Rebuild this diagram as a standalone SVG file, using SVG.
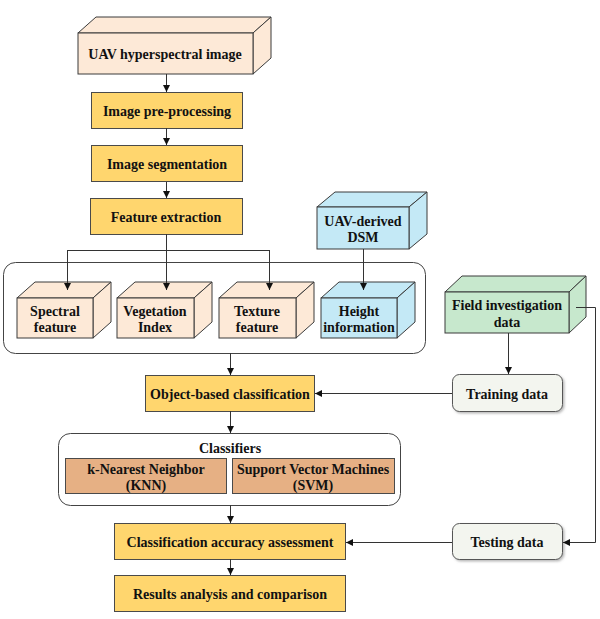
<svg xmlns="http://www.w3.org/2000/svg" width="600" height="619" viewBox="0 0 600 619">
<defs>
<marker id="ah" viewBox="0 0 10 10" refX="10" refY="5" markerWidth="7" markerHeight="7" orient="auto" markerUnits="userSpaceOnUse">
<path d="M0,0 L10,5 L0,10 z" fill="#111"/>
</marker>
<filter id="sh" x="-10%" y="-10%" width="130%" height="140%">
<feDropShadow dx="1.5" dy="1.5" stdDeviation="1" flood-color="#888" flood-opacity="0.6"/>
</filter>
</defs>
<style>
text{font-family:"Liberation Serif","Times New Roman",serif;font-weight:bold;font-size:14px;fill:#111;text-anchor:middle}
.peach{fill:#FDE9D7;stroke:#3a3a3a;stroke-width:1}
.blue{fill:#C4E9F6;stroke:#3a3a3a;stroke-width:1}
.green{fill:#C7E8CD;stroke:#3a3a3a;stroke-width:1}
.gold{fill:#FFD66E;stroke:#4a4a4a;stroke-width:1}
.tan{fill:#E6B084;stroke:#4a4a4a;stroke-width:1}
.round{fill:#fff;stroke:#444;stroke-width:1}
.data{fill:#F3F5EF;stroke:#555;stroke-width:1;filter:url(#sh)}
.c{fill:none;stroke:#333;stroke-width:1}
.a{fill:none;stroke:#333;stroke-width:1;marker-end:url(#ah)}
</style>
<rect width="600" height="619" fill="#fff"/>

<g id="containers">
<rect x="3.5" y="262.5" width="422" height="91" rx="12" class="round"/>
<rect x="58.5" y="433.5" width="342" height="72" rx="12" class="round"/>
</g>

<g id="uav-hyperspectral">
<polygon class="peach" points="78,33 96,17 271,17 253,33"/>
<polygon class="peach" points="253,33 271,17 271,58 253,74"/>
<rect class="peach" x="78" y="33" width="175" height="41"/>
<text x="165" y="59">UAV hyperspectral image</text>
</g>

<g id="preprocessing">
<rect class="gold" x="91.5" y="92.5" width="151" height="36"/>
<text x="167" y="115.5">Image pre-processing</text>
</g>
<g id="segmentation">
<rect class="gold" x="91.5" y="145.5" width="151" height="36"/>
<text x="167" y="168.5">Image segmentation</text>
</g>
<g id="feature-extraction">
<rect class="gold" x="90.5" y="198.5" width="152" height="36"/>
<text x="166" y="221.5">Feature extraction</text>
</g>

<g id="uav-dsm">
<polygon class="blue" points="317,207 335,192 427,192 409,207"/>
<polygon class="blue" points="409,207 427,192 427,234 409,249"/>
<rect class="blue" x="317" y="207" width="92" height="42"/>
<text x="363" y="226">UAV-derived</text>
<text x="363" y="242">DSM</text>
</g>

<g id="spectral">
<polygon class="peach" points="17,298 35,282 111,282 93,298"/>
<polygon class="peach" points="93,298 111,282 111,322 93,338"/>
<rect class="peach" x="17" y="298" width="76" height="40"/>
<text x="55" y="316">Spectral</text>
<text x="55" y="332">feature</text>
</g>
<g id="vegetation">
<polygon class="peach" points="117,298 135,282 212,282 194,298"/>
<polygon class="peach" points="194,298 212,282 212,322 194,338"/>
<rect class="peach" x="117" y="298" width="77" height="40"/>
<text x="155" y="316">Vegetation</text>
<text x="155" y="332">Index</text>
</g>
<g id="texture">
<polygon class="peach" points="219,298 237,282 314,282 296,298"/>
<polygon class="peach" points="296,298 314,282 314,322 296,338"/>
<rect class="peach" x="219" y="298" width="77" height="40"/>
<text x="257" y="316">Texture</text>
<text x="257" y="332">feature</text>
</g>
<g id="height">
<polygon class="blue" points="321,298 339,282 415,282 397,298"/>
<polygon class="blue" points="397,298 415,282 415,322 397,338"/>
<rect class="blue" x="321" y="298" width="76" height="40"/>
<text x="359" y="316">Height</text>
<text x="359" y="332">information</text>
</g>

<g id="field">
<polygon class="green" points="445,292 462,276 586,276 569,292"/>
<polygon class="green" points="569,292 586,276 586,317 569,333"/>
<rect class="green" x="445" y="292" width="124" height="41"/>
<text x="507" y="310">Field investigation</text>
<text x="507" y="327">data</text>
</g>

<g id="object-based">
<rect class="gold" x="145.5" y="375.5" width="169" height="36"/>
<text x="230" y="398.5">Object-based classification</text>
</g>
<g id="training">
<rect class="data" x="452.5" y="374.5" width="110" height="37" rx="7"/>
<text x="507" y="398.5">Training data</text>
</g>

<g id="classifiers">
<text x="230" y="453">Classifiers</text>
</g>
<g id="knn">
<rect class="tan" x="65.5" y="458.5" width="161" height="35"/>
<text x="146" y="474">k-Nearest Neighbor</text>
<text x="146" y="490">(KNN)</text>
</g>
<g id="svm">
<rect class="tan" x="232.5" y="458.5" width="162" height="35"/>
<text x="313" y="474">Support Vector Machines</text>
<text x="313" y="490">(SVM)</text>
</g>

<g id="accuracy">
<rect class="gold" x="114.5" y="523.5" width="231" height="36"/>
<text x="230" y="546.5">Classification accuracy assessment</text>
</g>
<g id="testing">
<rect class="data" x="452.5" y="523.5" width="110" height="36" rx="7"/>
<text x="507" y="546.5">Testing data</text>
</g>
<g id="results">
<rect class="gold" x="114.5" y="575.5" width="231" height="36"/>
<text x="230" y="598.5">Results analysis and comparison</text>
</g>

<g id="connectors">
<line class="a" x1="166.5" y1="74" x2="166.5" y2="92"/>
<line class="a" x1="166.5" y1="128" x2="166.5" y2="145"/>
<line class="a" x1="166.5" y1="182" x2="166.5" y2="198"/>
<line class="c" x1="166.5" y1="234" x2="166.5" y2="250.5"/>
<line class="c" x1="67.5" y1="250.5" x2="269.5" y2="250.5"/>
<line class="a" x1="67.5" y1="250" x2="67.5" y2="290"/>
<line class="a" x1="166.5" y1="250" x2="166.5" y2="290"/>
<line class="a" x1="269.5" y1="250" x2="269.5" y2="290"/>
<line class="a" x1="363.5" y1="249" x2="363.5" y2="290"/>
<line class="a" x1="230.5" y1="353" x2="230.5" y2="375"/>
<line class="a" x1="230.5" y1="411" x2="230.5" y2="433"/>
<line class="a" x1="230.5" y1="505" x2="230.5" y2="523"/>
<line class="a" x1="230.5" y1="559" x2="230.5" y2="575"/>
<line class="a" x1="508.5" y1="333" x2="508.5" y2="374"/>
<line class="a" x1="452" y1="393.5" x2="315" y2="393.5"/>
<line class="a" x1="452" y1="542.5" x2="346" y2="542.5"/>
<polyline class="a" points="576,307.5 595.5,307.5 595.5,542.5 563,542.5"/>
</g>
</svg>
